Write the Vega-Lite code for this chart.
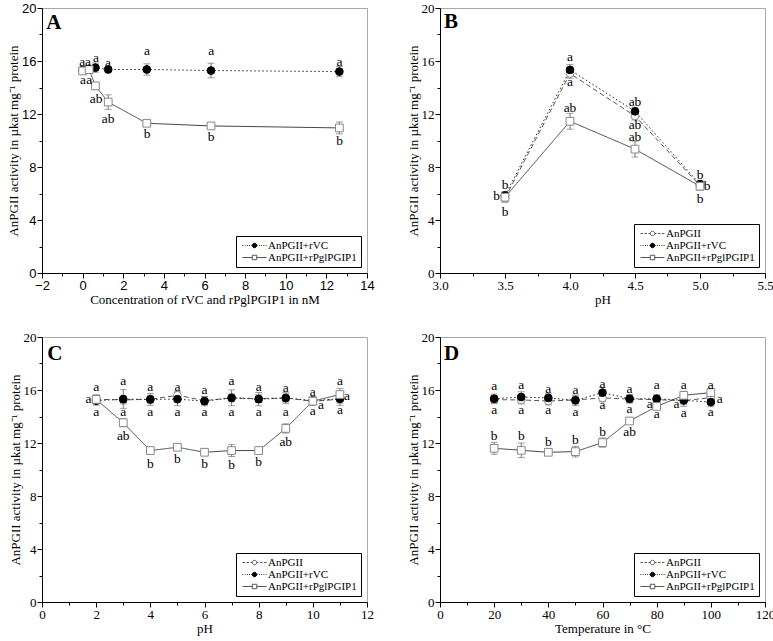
{
  "$schema": "https://vega.github.io/schema/vega-lite/v6.json",
  "padding": {"left": 7, "top": 1, "right": 0, "bottom": 0},
  "background": "white",
  "config": {
    "view": {"stroke": "#aaa"},
    "axis": {
      "grid": false, "domainColor": "black", "tickColor": "black", "labelColor": "black",
      "labelFont": "Liberation Serif", "labelFontSize": 13, "labelPadding": 1, "labelFlush": false, "labelOverlap": false,
      "titleFont": "Liberation Serif", "titleFontSize": 13, "titleFontWeight": "normal", "titleColor": "black", "titlePadding": 1
    },
    "legend": {
      "orient": "bottom-right", "offset": 6, "strokeColor": "black", "padding": 4, "title": null,
      "labelFont": "Liberation Serif", "labelFontSize": 11, "labelColor": "black",
      "symbolSize": 100, "symbolOffset": 9, "labelOffset": 8, "rowPadding": 0,
      "symbolOpacity": 1, "symbolStrokeWidth": 1
    }
  },
  "datasets": {
    "A": [
      {"s": "AnPGII+rVC", "x": 0, "v": 15.32, "e": 0.2},
      {"s": "AnPGII+rVC", "x": 0.32, "v": 15.42, "e": 0.2},
      {"s": "AnPGII+rVC", "x": 0.63, "v": 15.5, "e": 0.35},
      {"s": "AnPGII+rVC", "x": 1.26, "v": 15.36, "e": 0.12},
      {"s": "AnPGII+rVC", "x": 3.16, "v": 15.36, "e": 0.43},
      {"s": "AnPGII+rVC", "x": 6.32, "v": 15.28, "e": 0.55},
      {"s": "AnPGII+rVC", "x": 12.64, "v": 15.2, "e": 0.38},
      {"s": "AnPGII+rPglPGIP1", "x": 0, "v": 15.25, "e": 0.2},
      {"s": "AnPGII+rPglPGIP1", "x": 0.32, "v": 15.35, "e": 0.15},
      {"s": "AnPGII+rPglPGIP1", "x": 0.63, "v": 14.12, "e": 0.25},
      {"s": "AnPGII+rPglPGIP1", "x": 1.26, "v": 12.9, "e": 0.55},
      {"s": "AnPGII+rPglPGIP1", "x": 3.16, "v": 11.3, "e": 0.1},
      {"s": "AnPGII+rPglPGIP1", "x": 6.32, "v": 11.1, "e": 0.18},
      {"s": "AnPGII+rPglPGIP1", "x": 12.64, "v": 10.95, "e": 0.45}
    ],
    "B": [
      {"s": "AnPGII", "x": 3.5, "v": 5.65, "e": 0.3},
      {"s": "AnPGII", "x": 4.0, "v": 15.05, "e": 0.35},
      {"s": "AnPGII", "x": 4.5, "v": 11.85, "e": 0.3},
      {"s": "AnPGII", "x": 5.0, "v": 6.6, "e": 0.25},
      {"s": "AnPGII+rVC", "x": 3.5, "v": 5.85, "e": 0.3},
      {"s": "AnPGII+rVC", "x": 4.0, "v": 15.33, "e": 0.4},
      {"s": "AnPGII+rVC", "x": 4.5, "v": 12.2, "e": 0.3},
      {"s": "AnPGII+rVC", "x": 5.0, "v": 6.7, "e": 0.3},
      {"s": "AnPGII+rPglPGIP1", "x": 3.5, "v": 5.72, "e": 0.35},
      {"s": "AnPGII+rPglPGIP1", "x": 4.0, "v": 11.45, "e": 0.6},
      {"s": "AnPGII+rPglPGIP1", "x": 4.5, "v": 9.35, "e": 0.6},
      {"s": "AnPGII+rPglPGIP1", "x": 5.0, "v": 6.55, "e": 0.3}
    ],
    "C": [
      {"s": "AnPGII", "x": 2, "v": 15.3, "e": 0.3},
      {"s": "AnPGII", "x": 3, "v": 15.25, "e": 0.3},
      {"s": "AnPGII", "x": 4, "v": 15.3, "e": 0.3},
      {"s": "AnPGII", "x": 5, "v": 15.6, "e": 0.3},
      {"s": "AnPGII", "x": 6, "v": 15.2, "e": 0.3},
      {"s": "AnPGII", "x": 7, "v": 15.4, "e": 0.3},
      {"s": "AnPGII", "x": 8, "v": 15.35, "e": 0.3},
      {"s": "AnPGII", "x": 9, "v": 15.4, "e": 0.3},
      {"s": "AnPGII", "x": 10, "v": 15.15, "e": 0.3},
      {"s": "AnPGII", "x": 11, "v": 15.3, "e": 0.3},
      {"s": "AnPGII+rVC", "x": 2, "v": 15.2, "e": 0.35},
      {"s": "AnPGII+rVC", "x": 3, "v": 15.31, "e": 0.72},
      {"s": "AnPGII+rVC", "x": 4, "v": 15.29, "e": 0.45},
      {"s": "AnPGII+rVC", "x": 5, "v": 15.31, "e": 0.5},
      {"s": "AnPGII+rVC", "x": 6, "v": 15.16, "e": 0.35},
      {"s": "AnPGII+rVC", "x": 7, "v": 15.41, "e": 0.6},
      {"s": "AnPGII+rVC", "x": 8, "v": 15.31, "e": 0.5},
      {"s": "AnPGII+rVC", "x": 9, "v": 15.39, "e": 0.4},
      {"s": "AnPGII+rVC", "x": 10, "v": 15.2, "e": 0.3},
      {"s": "AnPGII+rVC", "x": 11, "v": 15.34, "e": 0.5},
      {"s": "AnPGII+rPglPGIP1", "x": 2, "v": 15.29, "e": 0.35},
      {"s": "AnPGII+rPglPGIP1", "x": 3, "v": 13.53, "e": 0.3},
      {"s": "AnPGII+rPglPGIP1", "x": 4, "v": 11.43, "e": 0.2},
      {"s": "AnPGII+rPglPGIP1", "x": 5, "v": 11.68, "e": 0.1},
      {"s": "AnPGII+rPglPGIP1", "x": 6, "v": 11.3, "e": 0.1},
      {"s": "AnPGII+rPglPGIP1", "x": 7, "v": 11.43, "e": 0.45},
      {"s": "AnPGII+rPglPGIP1", "x": 8, "v": 11.43, "e": 0.25},
      {"s": "AnPGII+rPglPGIP1", "x": 9, "v": 13.1, "e": 0.35},
      {"s": "AnPGII+rPglPGIP1", "x": 10, "v": 15.16, "e": 0.2},
      {"s": "AnPGII+rPglPGIP1", "x": 11, "v": 15.66, "e": 0.45}
    ],
    "D": [
      {"s": "AnPGII", "x": 20, "v": 15.27, "e": 0.3},
      {"s": "AnPGII", "x": 30, "v": 15.25, "e": 0.3},
      {"s": "AnPGII", "x": 40, "v": 15.17, "e": 0.3},
      {"s": "AnPGII", "x": 50, "v": 15.25, "e": 0.3},
      {"s": "AnPGII", "x": 60, "v": 15.4, "e": 0.3},
      {"s": "AnPGII", "x": 70, "v": 15.32, "e": 0.3},
      {"s": "AnPGII", "x": 80, "v": 15.27, "e": 0.3},
      {"s": "AnPGII", "x": 90, "v": 15.2, "e": 0.3},
      {"s": "AnPGII", "x": 100, "v": 15.42, "e": 0.3},
      {"s": "AnPGII+rVC", "x": 20, "v": 15.34, "e": 0.35},
      {"s": "AnPGII+rVC", "x": 30, "v": 15.47, "e": 0.4},
      {"s": "AnPGII+rVC", "x": 40, "v": 15.4, "e": 0.35},
      {"s": "AnPGII+rVC", "x": 50, "v": 15.22, "e": 0.4},
      {"s": "AnPGII+rVC", "x": 60, "v": 15.8, "e": 0.4},
      {"s": "AnPGII+rVC", "x": 70, "v": 15.34, "e": 0.3},
      {"s": "AnPGII+rVC", "x": 80, "v": 15.34, "e": 0.3},
      {"s": "AnPGII+rVC", "x": 90, "v": 15.22, "e": 0.45},
      {"s": "AnPGII+rVC", "x": 100, "v": 15.09, "e": 0.35},
      {"s": "AnPGII+rPglPGIP1", "x": 20, "v": 11.6, "e": 0.45},
      {"s": "AnPGII+rPglPGIP1", "x": 30, "v": 11.45, "e": 0.55},
      {"s": "AnPGII+rPglPGIP1", "x": 40, "v": 11.3, "e": 0.1},
      {"s": "AnPGII+rPglPGIP1", "x": 50, "v": 11.35, "e": 0.4},
      {"s": "AnPGII+rPglPGIP1", "x": 60, "v": 12.03, "e": 0.35},
      {"s": "AnPGII+rPglPGIP1", "x": 70, "v": 13.66, "e": 0.2},
      {"s": "AnPGII+rPglPGIP1", "x": 80, "v": 14.76, "e": 0.2},
      {"s": "AnPGII+rPglPGIP1", "x": 90, "v": 15.6, "e": 0.3},
      {"s": "AnPGII+rPglPGIP1", "x": 100, "v": 15.8, "e": 0.3}
    ],
    "labA": [
      {"x": -0.02, "v": 15.94, "t": "a"}, {"x": 0.27, "v": 15.94, "t": "a"},
      {"x": 0.66, "v": 16.24, "t": "a"}, {"x": 1.25, "v": 15.86, "t": "a"},
      {"x": 3.17, "v": 16.77, "t": "a"}, {"x": 6.33, "v": 16.77, "t": "a"},
      {"x": 12.65, "v": 15.94, "t": "a"},
      {"x": 0.02, "v": 14.58, "t": "a"}, {"x": 0.33, "v": 14.58, "t": "a"},
      {"x": 0.66, "v": 13.11, "t": "ab"}, {"x": 1.25, "v": 11.6, "t": "ab"},
      {"x": 3.17, "v": 10.52, "t": "b"}, {"x": 6.33, "v": 10.26, "t": "b"},
      {"x": 12.65, "v": 9.96, "t": "b"}
    ],
    "labB": [
      {"x": 4.0, "v": 16.3, "t": "a"}, {"x": 4.0, "v": 14.42, "t": "a"},
      {"x": 4.0, "v": 12.45, "t": "ab"}, {"x": 4.5, "v": 12.9, "t": "ab"},
      {"x": 4.5, "v": 11.14, "t": "ab"}, {"x": 4.5, "v": 10.26, "t": "ab"},
      {"x": 3.5, "v": 6.65, "t": "b"}, {"x": 3.435, "v": 5.82, "t": "b"},
      {"x": 3.5, "v": 4.58, "t": "b"}, {"x": 5.0, "v": 7.42, "t": "b"},
      {"x": 5.055, "v": 6.54, "t": "b"}, {"x": 5.0, "v": 5.6, "t": "b"}
    ],
    "labC": [
      {"x": 2, "v": 16.24, "t": "a"}, {"x": 3, "v": 16.69, "t": "a"},
      {"x": 4, "v": 16.24, "t": "a"}, {"x": 5, "v": 16.24, "t": "a"},
      {"x": 6, "v": 15.99, "t": "a"}, {"x": 7, "v": 16.69, "t": "a"},
      {"x": 8, "v": 16.24, "t": "a"}, {"x": 9, "v": 16.17, "t": "a"},
      {"x": 10, "v": 15.85, "t": "a"}, {"x": 11, "v": 16.66, "t": "a"},
      {"x": 1.72, "v": 15.29, "t": "a"},
      {"x": 2, "v": 14.33, "t": "a"}, {"x": 3, "v": 14.33, "t": "a"},
      {"x": 4, "v": 14.33, "t": "a"}, {"x": 5, "v": 14.33, "t": "a"},
      {"x": 6, "v": 14.33, "t": "a"}, {"x": 7, "v": 14.33, "t": "a"},
      {"x": 8, "v": 14.33, "t": "a"}, {"x": 9, "v": 14.33, "t": "a"},
      {"x": 10, "v": 14.4, "t": "a"}, {"x": 11, "v": 14.46, "t": "a"},
      {"x": 10.3, "v": 14.86, "t": "a"}, {"x": 11.26, "v": 15.56, "t": "a"},
      {"x": 3, "v": 12.55, "t": "ab"}, {"x": 4, "v": 10.43, "t": "b"},
      {"x": 5, "v": 10.78, "t": "b"}, {"x": 6, "v": 10.43, "t": "b"},
      {"x": 7, "v": 10.35, "t": "b"}, {"x": 8, "v": 10.53, "t": "b"},
      {"x": 9, "v": 12.05, "t": "ab"}
    ],
    "labD": [
      {"x": 20, "v": 16.3, "t": "a"}, {"x": 30, "v": 16.35, "t": "a"},
      {"x": 40, "v": 16.1, "t": "a"}, {"x": 50, "v": 15.97, "t": "a"},
      {"x": 60, "v": 16.47, "t": "a"}, {"x": 70, "v": 16.1, "t": "a"},
      {"x": 80, "v": 16.35, "t": "a"}, {"x": 90, "v": 16.35, "t": "a"},
      {"x": 100, "v": 16.4, "t": "a"},
      {"x": 20, "v": 14.46, "t": "a"}, {"x": 30, "v": 14.46, "t": "a"},
      {"x": 40, "v": 14.46, "t": "a"}, {"x": 50, "v": 14.34, "t": "a"},
      {"x": 60, "v": 14.84, "t": "a"}, {"x": 70, "v": 14.54, "t": "a"},
      {"x": 77.4, "v": 14.91, "t": "a"}, {"x": 80, "v": 14.21, "t": "a"},
      {"x": 87.3, "v": 14.91, "t": "a"}, {"x": 90, "v": 14.29, "t": "a"},
      {"x": 103.3, "v": 15.29, "t": "a"}, {"x": 100, "v": 14.34, "t": "a"},
      {"x": 20, "v": 12.53, "t": "b"}, {"x": 30, "v": 12.53, "t": "b"},
      {"x": 40, "v": 12.07, "t": "b"}, {"x": 50, "v": 12.2, "t": "b"},
      {"x": 60, "v": 12.83, "t": "b"}, {"x": 70, "v": 12.83, "t": "ab"}
    ]
  },
  "columns": 2,
  "spacing": {"row": 23, "column": 31},
  "resolve": {"scale": {"shape": "independent", "fill": "independent", "stroke": "independent"}},
  "concat": [
    {
      "width": 325, "height": 265,
      "encoding": {
        "x": {"field": "x", "type": "quantitative", "scale": {"domain": [-2, 14], "nice": false, "zero": false},
          "axis": {"title": "Concentration of rVC and rPglPGIP1 in nM", "labelFont": "Liberation Sans",
            "values": [-2, -1, 0, 1, 2, 3, 4, 5, 6, 7, 8, 9, 10, 11, 12, 13, 14],
            "labelExpr": "datum.value % 2 === 0 ? datum.label : ''",
            "tickSize": {"condition": {"test": "datum.value % 2 !== 0", "value": 3}, "value": 5}}},
        "y": {"field": "v", "type": "quantitative", "scale": {"domain": [0, 20], "nice": false},
          "axis": {"title": "AnPGII activity in µkat mg⁻¹ protein", "labelFont": "Liberation Sans",
            "values": [0, 2, 4, 6, 8, 10, 12, 14, 16, 18, 20],
            "labelExpr": "datum.value % 4 === 0 ? datum.label : ''",
            "tickSize": {"condition": {"test": "datum.value % 4 !== 0", "value": 3}, "value": 5}}}
      },
      "layer": [
        {"data": {"values": [{"x": -1.42, "v": 18.9, "t": "A"}]},
          "mark": {"type": "text", "font": "Liberation Serif", "fontSize": 21, "fontWeight": "bold", "color": "black", "align": "center"},
          "encoding": {"text": {"field": "t"}}},
        {"data": {"name": "A"}, "mark": {"type": "point", "opacity": 0, "filled": false},
          "encoding": {
            "shape": {"field": "s", "type": "nominal", "legend": {"title": null},
              "scale": {"domain": ["AnPGII+rVC", "AnPGII+rPglPGIP1"],
                "range": ["M-2.4,0H-2.25M-1.95,0H-1.8M-1.5,0H-1.35M-1.05,0H-0.9M-0.6,0H-0.45M0.45,0H0.6M0.9,0H1.05M1.35,0H1.5M1.8,0H1.95M2.25,0H2.4M0.45,0A0.45,0.45,0,1,1,-0.45,0A0.45,0.45,0,1,1,0.45,0Z", "M-2.4,0H-0.45M0.45,0H2.4M-0.45,-0.45H0.45V0.45H-0.45Z"]}},
            "fill": {"field": "s", "type": "nominal", "legend": {"title": null}, "scale": {"domain": ["AnPGII+rVC", "AnPGII+rPglPGIP1"], "range": ["black", "white"]}},
            "stroke": {"field": "s", "type": "nominal", "legend": {"title": null}, "scale": {"domain": ["AnPGII+rVC", "AnPGII+rPglPGIP1"], "range": ["black", "#555"]}}}},
        {"data": {"name": "A"}, "mark": {"type": "line", "strokeWidth": 1},
          "encoding": {
            "detail": {"field": "s"},
            "color": {"condition": [{"test": "datum.s === 'AnPGII'", "value": "#555"}, {"test": "datum.s === 'AnPGII+rVC'", "value": "#222"}], "value": "#444"},
            "strokeDash": {"condition": [{"test": "datum.s === 'AnPGII'", "value": [5, 3]}, {"test": "datum.s === 'AnPGII+rVC'", "value": [1.5, 2.5]}], "value": [1, 0]}}},
        {"data": {"name": "A"}, "mark": {"type": "errorbar", "color": "#777", "ticks": {"size": 7}},
          "encoding": {"yError": {"field": "e"}}},
        {"data": {"name": "A"}, "mark": {"type": "point", "size": 60, "strokeWidth": 1, "opacity": 1, "filled": false},
          "encoding": {
            "shape": {"condition": {"test": "datum.s === 'AnPGII+rPglPGIP1'", "value": "square"}, "value": "circle"},
            "fill": {"condition": {"test": "datum.s === 'AnPGII+rVC'", "value": "black"}, "value": "white"},
            "stroke": {"condition": {"test": "datum.s === 'AnPGII+rVC'", "value": "black"}, "value": "#888"}}},
        {"data": {"name": "labA"}, "mark": {"type": "text", "font": "Liberation Serif", "fontSize": 13.5, "color": "black"},
          "encoding": {"text": {"field": "t"}}}
      ]
    },
    {
      "width": 325, "height": 265,
      "encoding": {
        "x": {"field": "x", "type": "quantitative", "scale": {"domain": [3, 5.5], "nice": false, "zero": false},
          "axis": {"title": "pH", "format": ".1f", "labelFont": "Liberation Serif",
            "values": [3, 3.25, 3.5, 3.75, 4, 4.25, 4.5, 4.75, 5, 5.25, 5.5],
            "labelExpr": "abs(datum.value * 2 - round(datum.value * 2)) < 0.01 ? datum.label : ''",
            "tickSize": {"condition": {"test": "abs(datum.value * 2 - round(datum.value * 2)) > 0.01", "value": 3}, "value": 5}}},
        "y": {"field": "v", "type": "quantitative", "scale": {"domain": [0, 20], "nice": false},
          "axis": {"title": "AnPGII activity in µkat mg⁻¹ protein", "labelFont": "Liberation Serif",
            "values": [0, 2, 4, 6, 8, 10, 12, 14, 16, 18, 20],
            "labelExpr": "datum.value % 4 === 0 ? datum.label : ''",
            "tickSize": {"condition": {"test": "datum.value % 4 !== 0", "value": 3}, "value": 5}}}
      },
      "layer": [
        {"data": {"values": [{"x": 3.084, "v": 18.92, "t": "B"}]},
          "mark": {"type": "text", "font": "Liberation Serif", "fontSize": 21, "fontWeight": "bold", "color": "black", "align": "center"},
          "encoding": {"text": {"field": "t"}}},
        {"data": {"name": "B"}, "mark": {"type": "point", "opacity": 0, "filled": false},
          "encoding": {
            "shape": {"field": "s", "type": "nominal", "legend": {"title": null},
              "scale": {"domain": ["AnPGII", "AnPGII+rVC", "AnPGII+rPglPGIP1"],
                "range": ["M-2.4,0H-1.9M-1.6,0H-1.1M-0.8,0H-0.45M0.45,0H0.8M1.1,0H1.6M1.9,0H2.4M0.45,0A0.45,0.45,0,1,1,-0.45,0A0.45,0.45,0,1,1,0.45,0Z", "M-2.4,0H-2.25M-1.95,0H-1.8M-1.5,0H-1.35M-1.05,0H-0.9M-0.6,0H-0.45M0.45,0H0.6M0.9,0H1.05M1.35,0H1.5M1.8,0H1.95M2.25,0H2.4M0.45,0A0.45,0.45,0,1,1,-0.45,0A0.45,0.45,0,1,1,0.45,0Z", "M-2.4,0H-0.45M0.45,0H2.4M-0.45,-0.45H0.45V0.45H-0.45Z"]}},
            "fill": {"field": "s", "type": "nominal", "legend": {"title": null}, "scale": {"domain": ["AnPGII", "AnPGII+rVC", "AnPGII+rPglPGIP1"], "range": ["white", "black", "white"]}},
            "stroke": {"field": "s", "type": "nominal", "legend": {"title": null}, "scale": {"domain": ["AnPGII", "AnPGII+rVC", "AnPGII+rPglPGIP1"], "range": ["#555", "black", "#555"]}}}},
        {"data": {"name": "B"}, "mark": {"type": "line", "strokeWidth": 1},
          "encoding": {
            "detail": {"field": "s"},
            "color": {"condition": [{"test": "datum.s === 'AnPGII'", "value": "#555"}, {"test": "datum.s === 'AnPGII+rVC'", "value": "#222"}], "value": "#444"},
            "strokeDash": {"condition": [{"test": "datum.s === 'AnPGII'", "value": [5, 3]}, {"test": "datum.s === 'AnPGII+rVC'", "value": [1.5, 2.5]}], "value": [1, 0]}}},
        {"data": {"name": "B"}, "mark": {"type": "errorbar", "color": "#777", "ticks": {"size": 7}},
          "encoding": {"yError": {"field": "e"}}},
        {"data": {"name": "B"}, "mark": {"type": "point", "size": 60, "strokeWidth": 1, "opacity": 1, "filled": false},
          "encoding": {
            "shape": {"condition": {"test": "datum.s === 'AnPGII+rPglPGIP1'", "value": "square"}, "value": "circle"},
            "fill": {"condition": {"test": "datum.s === 'AnPGII+rVC'", "value": "black"}, "value": "white"},
            "stroke": {"condition": {"test": "datum.s === 'AnPGII+rVC'", "value": "black"}, "value": "#888"}}},
        {"data": {"name": "labB"}, "mark": {"type": "text", "font": "Liberation Serif", "fontSize": 13.5, "color": "black"},
          "encoding": {"text": {"field": "t"}}}
      ]
    },
    {
      "width": 325, "height": 265,
      "encoding": {
        "x": {"field": "x", "type": "quantitative", "scale": {"domain": [0, 12], "nice": false, "zero": false},
          "axis": {"title": "pH", "labelFont": "Liberation Serif",
            "values": [0, 1, 2, 3, 4, 5, 6, 7, 8, 9, 10, 11, 12],
            "labelExpr": "datum.value % 2 === 0 ? datum.label : ''",
            "tickSize": {"condition": {"test": "datum.value % 2 !== 0", "value": 3}, "value": 5}}},
        "y": {"field": "v", "type": "quantitative", "scale": {"domain": [0, 20], "nice": false},
          "axis": {"title": "AnPGII activity in µkat mg⁻¹ protein", "labelFont": "Liberation Serif",
            "values": [0, 2, 4, 6, 8, 10, 12, 14, 16, 18, 20],
            "labelExpr": "datum.value % 4 === 0 ? datum.label : ''",
            "tickSize": {"condition": {"test": "datum.value % 4 !== 0", "value": 3}, "value": 5}}}
      },
      "layer": [
        {"data": {"values": [{"x": 0.47, "v": 18.74, "t": "C"}]},
          "mark": {"type": "text", "font": "Liberation Serif", "fontSize": 21, "fontWeight": "bold", "color": "black", "align": "center"},
          "encoding": {"text": {"field": "t"}}},
        {"data": {"name": "C"}, "mark": {"type": "point", "opacity": 0, "filled": false},
          "encoding": {
            "shape": {"field": "s", "type": "nominal", "legend": {"title": null},
              "scale": {"domain": ["AnPGII", "AnPGII+rVC", "AnPGII+rPglPGIP1"],
                "range": ["M-2.4,0H-1.9M-1.6,0H-1.1M-0.8,0H-0.45M0.45,0H0.8M1.1,0H1.6M1.9,0H2.4M0.45,0A0.45,0.45,0,1,1,-0.45,0A0.45,0.45,0,1,1,0.45,0Z", "M-2.4,0H-2.25M-1.95,0H-1.8M-1.5,0H-1.35M-1.05,0H-0.9M-0.6,0H-0.45M0.45,0H0.6M0.9,0H1.05M1.35,0H1.5M1.8,0H1.95M2.25,0H2.4M0.45,0A0.45,0.45,0,1,1,-0.45,0A0.45,0.45,0,1,1,0.45,0Z", "M-2.4,0H-0.45M0.45,0H2.4M-0.45,-0.45H0.45V0.45H-0.45Z"]}},
            "fill": {"field": "s", "type": "nominal", "legend": {"title": null}, "scale": {"domain": ["AnPGII", "AnPGII+rVC", "AnPGII+rPglPGIP1"], "range": ["white", "black", "white"]}},
            "stroke": {"field": "s", "type": "nominal", "legend": {"title": null}, "scale": {"domain": ["AnPGII", "AnPGII+rVC", "AnPGII+rPglPGIP1"], "range": ["#555", "black", "#555"]}}}},
        {"data": {"name": "C"}, "mark": {"type": "line", "strokeWidth": 1},
          "encoding": {
            "detail": {"field": "s"},
            "color": {"condition": [{"test": "datum.s === 'AnPGII'", "value": "#555"}, {"test": "datum.s === 'AnPGII+rVC'", "value": "#222"}], "value": "#444"},
            "strokeDash": {"condition": [{"test": "datum.s === 'AnPGII'", "value": [5, 3]}, {"test": "datum.s === 'AnPGII+rVC'", "value": [1.5, 2.5]}], "value": [1, 0]}}},
        {"data": {"name": "C"}, "mark": {"type": "errorbar", "color": "#777", "ticks": {"size": 7}},
          "encoding": {"yError": {"field": "e"}}},
        {"data": {"name": "C"}, "mark": {"type": "point", "size": 60, "strokeWidth": 1, "opacity": 1, "filled": false},
          "encoding": {
            "shape": {"condition": {"test": "datum.s === 'AnPGII+rPglPGIP1'", "value": "square"}, "value": "circle"},
            "fill": {"condition": {"test": "datum.s === 'AnPGII+rVC'", "value": "black"}, "value": "white"},
            "stroke": {"condition": {"test": "datum.s === 'AnPGII+rVC'", "value": "black"}, "value": "#888"}}},
        {"data": {"name": "labC"}, "mark": {"type": "text", "font": "Liberation Serif", "fontSize": 13.5, "color": "black"},
          "encoding": {"text": {"field": "t"}}}
      ]
    },
    {
      "width": 325, "height": 265,
      "encoding": {
        "x": {"field": "x", "type": "quantitative", "scale": {"domain": [0, 120], "nice": false, "zero": false},
          "axis": {"title": "Temperature in °C", "labelFont": "Liberation Serif",
            "values": [0, 10, 20, 30, 40, 50, 60, 70, 80, 90, 100, 110, 120],
            "labelExpr": "datum.value % 20 === 0 ? datum.label : ''",
            "tickSize": {"condition": {"test": "datum.value % 20 !== 0", "value": 3}, "value": 5}}},
        "y": {"field": "v", "type": "quantitative", "scale": {"domain": [0, 20], "nice": false},
          "axis": {"title": "AnPGII activity in µkat mg⁻¹ protein", "labelFont": "Liberation Serif",
            "values": [0, 2, 4, 6, 8, 10, 12, 14, 16, 18, 20],
            "labelExpr": "datum.value % 4 === 0 ? datum.label : ''",
            "tickSize": {"condition": {"test": "datum.value % 4 !== 0", "value": 3}, "value": 5}}}
      },
      "layer": [
        {"data": {"values": [{"x": 4.26, "v": 18.74, "t": "D"}]},
          "mark": {"type": "text", "font": "Liberation Serif", "fontSize": 21, "fontWeight": "bold", "color": "black", "align": "center"},
          "encoding": {"text": {"field": "t"}}},
        {"data": {"name": "D"}, "mark": {"type": "point", "opacity": 0, "filled": false},
          "encoding": {
            "shape": {"field": "s", "type": "nominal", "legend": {"title": null},
              "scale": {"domain": ["AnPGII", "AnPGII+rVC", "AnPGII+rPglPGIP1"],
                "range": ["M-2.4,0H-1.9M-1.6,0H-1.1M-0.8,0H-0.45M0.45,0H0.8M1.1,0H1.6M1.9,0H2.4M0.45,0A0.45,0.45,0,1,1,-0.45,0A0.45,0.45,0,1,1,0.45,0Z", "M-2.4,0H-2.25M-1.95,0H-1.8M-1.5,0H-1.35M-1.05,0H-0.9M-0.6,0H-0.45M0.45,0H0.6M0.9,0H1.05M1.35,0H1.5M1.8,0H1.95M2.25,0H2.4M0.45,0A0.45,0.45,0,1,1,-0.45,0A0.45,0.45,0,1,1,0.45,0Z", "M-2.4,0H-0.45M0.45,0H2.4M-0.45,-0.45H0.45V0.45H-0.45Z"]}},
            "fill": {"field": "s", "type": "nominal", "legend": {"title": null}, "scale": {"domain": ["AnPGII", "AnPGII+rVC", "AnPGII+rPglPGIP1"], "range": ["white", "black", "white"]}},
            "stroke": {"field": "s", "type": "nominal", "legend": {"title": null}, "scale": {"domain": ["AnPGII", "AnPGII+rVC", "AnPGII+rPglPGIP1"], "range": ["#555", "black", "#555"]}}}},
        {"data": {"name": "D"}, "mark": {"type": "line", "strokeWidth": 1},
          "encoding": {
            "detail": {"field": "s"},
            "color": {"condition": [{"test": "datum.s === 'AnPGII'", "value": "#555"}, {"test": "datum.s === 'AnPGII+rVC'", "value": "#222"}], "value": "#444"},
            "strokeDash": {"condition": [{"test": "datum.s === 'AnPGII'", "value": [5, 3]}, {"test": "datum.s === 'AnPGII+rVC'", "value": [1.5, 2.5]}], "value": [1, 0]}}},
        {"data": {"name": "D"}, "mark": {"type": "errorbar", "color": "#777", "ticks": {"size": 7}},
          "encoding": {"yError": {"field": "e"}}},
        {"data": {"name": "D"}, "mark": {"type": "point", "size": 60, "strokeWidth": 1, "opacity": 1, "filled": false},
          "encoding": {
            "shape": {"condition": {"test": "datum.s === 'AnPGII+rPglPGIP1'", "value": "square"}, "value": "circle"},
            "fill": {"condition": {"test": "datum.s === 'AnPGII+rVC'", "value": "black"}, "value": "white"},
            "stroke": {"condition": {"test": "datum.s === 'AnPGII+rVC'", "value": "black"}, "value": "#888"}}},
        {"data": {"name": "labD"}, "mark": {"type": "text", "font": "Liberation Serif", "fontSize": 13.5, "color": "black"},
          "encoding": {"text": {"field": "t"}}}
      ]
    }
  ]
}
